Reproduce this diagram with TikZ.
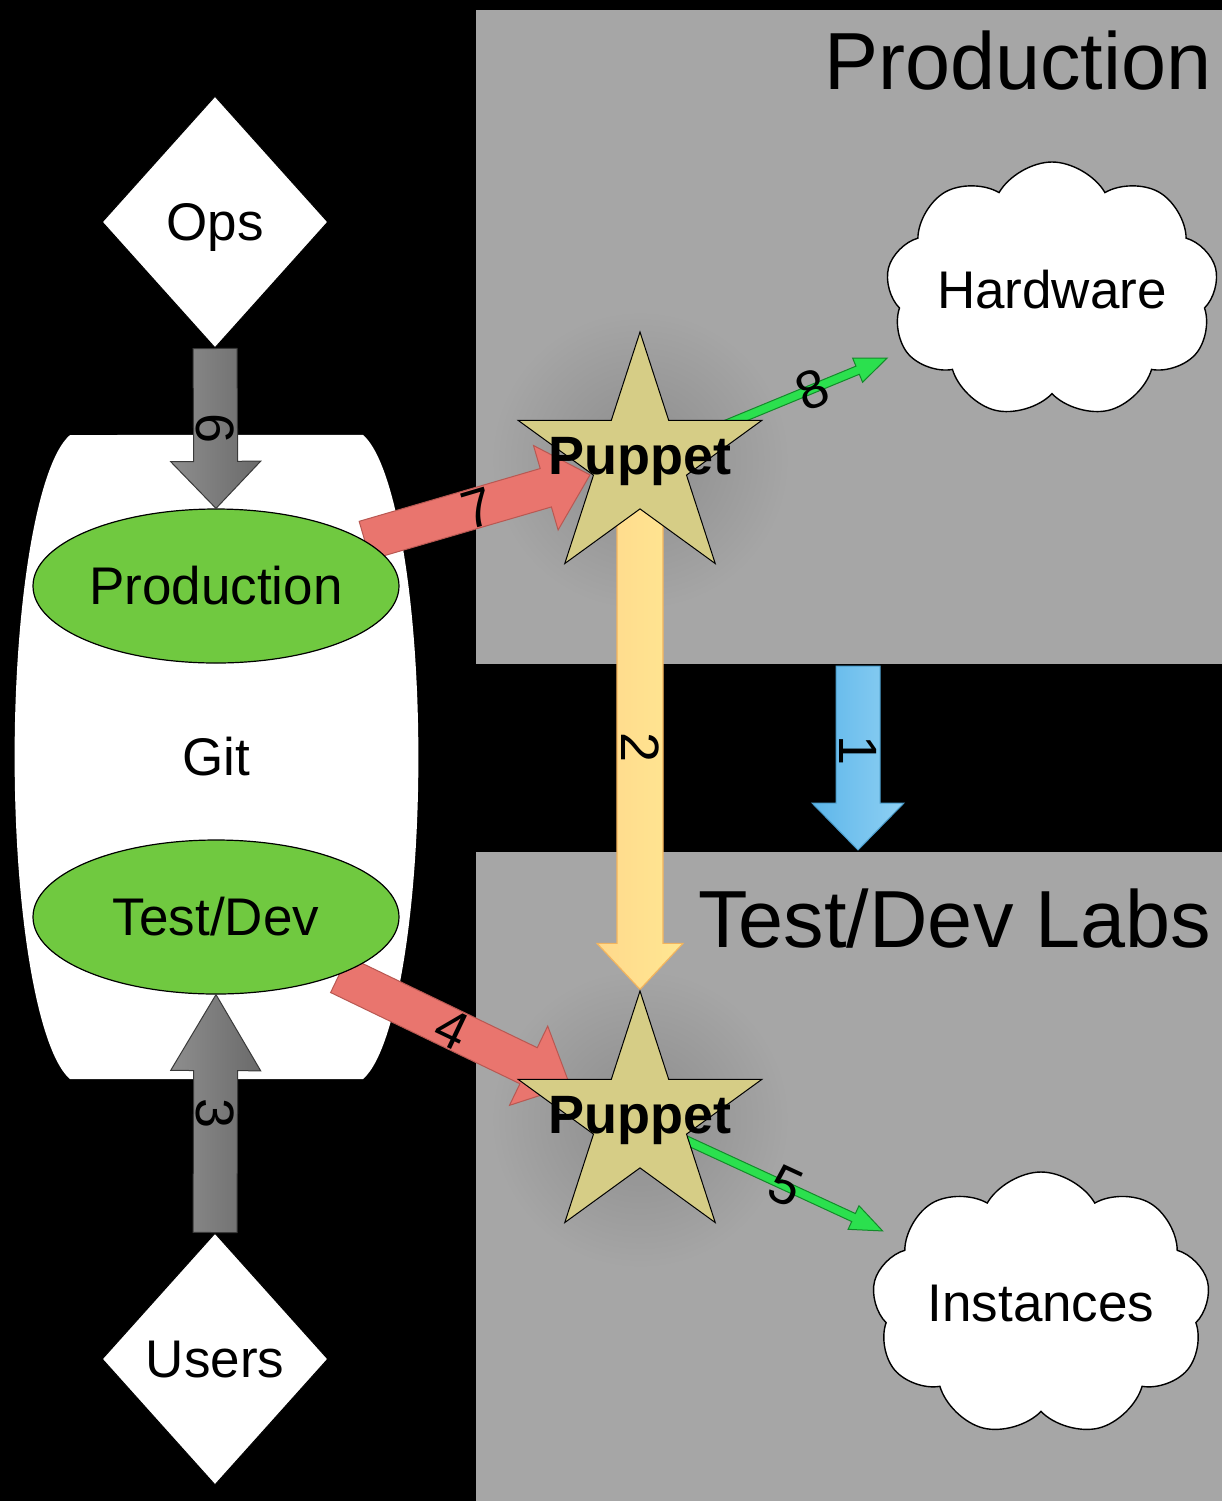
\documentclass[tikz,border=0pt]{standalone}
\usepackage{fontspec}
\setmainfont{Liberation Sans}
\usetikzlibrary{calc,shapes.geometric,shapes.symbols}
\pgfdeclarelayer{bglayer}
\pgfdeclarelayer{arrlayer}
\pgfsetlayers{bglayer,arrlayer,main}

\definecolor{panelgray}{HTML}{A6A6A6}
\definecolor{glowgray}{HTML}{8C8C8C}
\definecolor{ellgreen}{HTML}{70C940}
\definecolor{starfill}{HTML}{D6CD86}
\definecolor{redfill}{HTML}{E9756E}
\definecolor{redline}{HTML}{B85852}
\definecolor{yelL}{HTML}{FFD98C}
\definecolor{yelR}{HTML}{FFE792}
\definecolor{yelline}{HTML}{F2B45E}
\definecolor{blueL}{HTML}{5DB6EA}
\definecolor{blueR}{HTML}{8FD0F3}
\definecolor{blueline}{HTML}{4A9CCB}
\definecolor{grnfill}{HTML}{2BE04E}
\definecolor{grnline}{HTML}{138A2A}
\definecolor{grayA}{HTML}{8E8E8E}
\definecolor{grayB}{HTML}{C2C2C2}
\definecolor{grayC}{HTML}{6A6A6A}
\definecolor{grayD}{HTML}{3A3A3A}

% block arrow: #1 style, #2 tail coord, #3 tip coord, #4 half shaft width, #5 half head width, #6 head length
\newcommand{\blockarr}[6]{%
  \coordinate (bH) at ($(#3)!#6!(#2)$);
  \path[#1] ($(#2)!#4!90:(#3)$) -- ($(bH)!#4!90:(#3)$) -- ($(bH)!#5!90:(#3)$) -- (#3)
    -- ($(bH)!#5!-90:(#3)$) -- ($(bH)!#4!-90:(#3)$) -- ($(#2)!#4!-90:(#3)$) -- cycle;}

\begin{document}
\begin{tikzpicture}[x=0.5pt,y=-0.5pt,
  txt/.style={font=\fontsize{26.5pt}{30pt}\selectfont, inner sep=0pt},
  titletxt/.style={font=\fontsize{40.5pt}{46pt}\selectfont, inner sep=0pt, anchor=east},
  dia/.style={diamond, fill=white, draw=black, line width=0.5pt, inner sep=0pt,
    minimum width=113pt, minimum height=126pt, text depth=0pt,
    font=\fontsize{26.5pt}{30pt}\selectfont},
  ell/.style={ellipse, fill=ellgreen, draw=black, line width=0.6pt, inner sep=0pt,
    minimum width=183pt, minimum height=77pt, font=\fontsize{26.5pt}{30pt}\selectfont},
  puppetstar/.style={star, star points=5, star point ratio=2.618, minimum size=128pt,
    fill=starfill, draw=black, line width=0.5pt, inner sep=0pt},
  puppettxt/.style={font=\bfseries\fontsize{27pt}{30pt}\selectfont, inner sep=0pt},
  cloudy/.style={cloud, cloud puffs=9, cloud puff arc=120, cloud ignores aspect,
    fill=white, draw=black, line width=0.7pt, inner sep=0pt,
    font=\fontsize{26.5pt}{30pt}\selectfont},
  num/.style={font=\fontsize{27pt}{30pt}\selectfont, inner sep=0pt},
  redarr/.style={fill=redfill, draw=redline, line width=0.5pt},
  grayarr/.style={left color=grayA, middle color=grayB, right color=grayC, draw=grayD, line width=0.5pt},
  yelarr/.style={left color=yelL, right color=yelR, draw=yelline, line width=0.6pt},
  bluearr/.style={left color=blueL, right color=blueR, draw=blueline, line width=0.5pt},
  grnarr/.style={fill=grnfill, draw=grnline, line width=0.5pt}
]
\useasboundingbox (0,0) rectangle (1222,1501);

% ---------- main layer nodes ----------
\node[ell] (prod) at (216,586) {Production};
\node[ell] (td) at (216,917) {Test/Dev};
\node[txt] (git) at (216,757) {Git};
\node[dia] (ops) at (215,222) {Ops};
\node[dia] (users) at (215,1359) {Users};
\node[puppetstar] (p1) at (640,460) {};
\node[puppettxt] (p1t) at (640,462) {Puppet};
\node[puppetstar] (p2) at (640,1119) {};
\node[puppettxt] (p2t) at (640,1121) {Puppet};
\node[cloudy, minimum width=166pt, minimum height=128pt] (hw) at (1052,290) {Hardware};
\node[cloudy, minimum width=169pt, minimum height=132pt] (inst) at (1041,1304) {Instances};
\node[titletxt, text depth=0pt] (ttlprod) at (1212,60) {Production};
\node[titletxt] (ttltd) at (1212,919) {Test/Dev Labs};

% ---------- background ----------
\begin{pgfonlayer}{bglayer}
  \fill[black] (0,0) rectangle (1222,1501);
  \fill[panelgray] (476,10) rectangle (1222,664);
  \fill[panelgray] (476,852) rectangle (1222,1501);
  \shade[inner color=glowgray, outer color=panelgray] (p1.center) circle (150);
  \shade[inner color=glowgray, outer color=panelgray] (p2.center) circle (150);
  \path[fill=white] (70,435) arc[start angle=260, end angle=100, x radius=67, y radius=327]
    -- (363,1079) arc[start angle=80, end angle=-80, x radius=67, y radius=327] -- cycle;
\end{pgfonlayer}

% ---------- arrows behind shapes ----------
\begin{pgfonlayer}{arrlayer}
  \coordinate (a7s) at (prod.17);
  \coordinate (a7e) at ($(prod.center)!0.882!(p1.center)$);
  \blockarr{redarr}{a7s}{a7e}{10pt}{22pt}{23pt}
  \coordinate (a4s) at (td.-25);
  \coordinate (a4e) at ($(td.center)!0.835!(p2.center)$);
  \blockarr{redarr}{a4s}{a4e}{10pt}{22pt}{23pt}
  \coordinate (a8e) at ($(p1.center)!0.6!(hw.center)$);
  \blockarr{grnarr}{p1.center}{a8e}{2.2pt}{6.5pt}{16pt}
  \coordinate (a5e) at ($(p2.center)!0.605!(inst.center)$);
  \blockarr{grnarr}{p2.center}{a5e}{2.2pt}{6.5pt}{16pt}
  \blockarr{yelarr}{p1.center}{p2.north}{11.5pt}{21.5pt}{23pt}
\end{pgfonlayer}

% ---------- vertical arrows on top ----------
\coordinate (a1s) at (858,666);
\coordinate (a1e) at (858,850);
\blockarr{bluearr}{a1s}{a1e}{11pt}{23pt}{23.5pt}
\blockarr{grayarr}{ops.south}{prod.north}{11pt}{22.5pt}{23.5pt}
\blockarr{grayarr}{users.north}{td.south}{11pt}{22.5pt}{38pt}

% ---------- labels ----------
\node[num, rotate=-90] (l1) at ($(a1s)!0.46!(a1e)$) {1};
\node[num, rotate=-90] (l2) at ($(p1.center)!0.437!(p2.center)$) {2};
\node[num, rotate=-90] (l3) at ($(users.north)!0.5!(td.south)$) {3};
\node[num, rotate=-25.5] (l4) at ($(td.center)!0.557!(p2.center)$) {4};
\node[num, rotate=-24.8] (l5) at ($(p2.center)!0.363!(inst.center)$) {5};
\node[num, rotate=-90] (l6) at ($(ops.south)!0.5!(prod.north)$) {6};
\node[num, rotate=16.5] (l7) at ($(prod.center)!0.618!(p1.center)$) {7};
\node[num, rotate=22.4] (l8) at ($(p1.center)!0.417!(hw.center)$) {8};
\end{tikzpicture}
\end{document}
